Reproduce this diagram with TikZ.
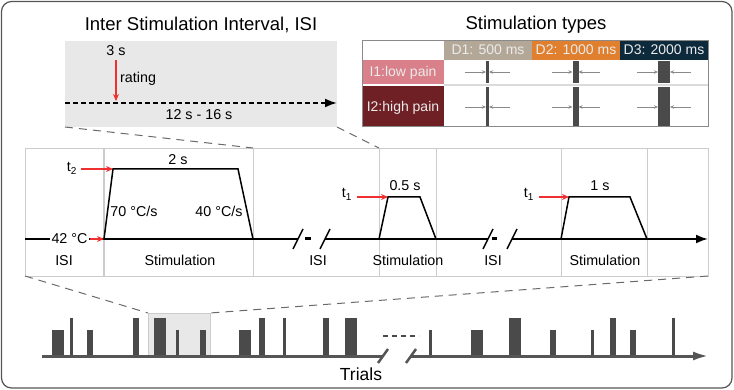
\documentclass[tikz,border=0pt]{standalone}
\usepackage{fontspec}
\setmainfont{Liberation Sans}
\usetikzlibrary{arrows.meta}
\definecolor{framegray}{HTML}{555555}
\definecolor{panelgray}{HTML}{E8E8E8}
\definecolor{linegray}{HTML}{CCCCCC}
\definecolor{dashgray}{HTML}{6A6A6A}
\definecolor{bardark}{HTML}{4A4A4A}
\definecolor{tipgray}{HTML}{8A8A8A}
\definecolor{pulsered}{HTML}{F03030}
\definecolor{hdrtext}{HTML}{EBEBEB}
\definecolor{dOne}{HTML}{B3A898}
\definecolor{dTwo}{HTML}{E07F2D}
\definecolor{dThree}{HTML}{0D2A3D}
\definecolor{iOne}{HTML}{D9808A}
\definecolor{iTwo}{HTML}{6F2024}

\begin{document}
\begin{tikzpicture}
            [x=1pt,y=-1pt,
             ttl/.style={font=\fontsize{18.5}{21}\selectfont,inner sep=0pt,anchor=base},
             lbl/.style={font=\fontsize{14.3}{16}\selectfont,inner sep=0pt,anchor=base},
             hdr/.style={font=\fontsize{14}{16}\selectfont,text=hdrtext,inner sep=0pt,anchor=base},
             redarr/.style={pulsered,line width=1.3pt,-{Stealth[length=7pt,width=6pt]}},
             pulse/.style={line width=1.5pt,line join=miter},
             zoomline/.style={dashgray,line width=1pt,dash pattern=on 8pt off 6pt},
             cutmark/.style={line width=1.5pt},
             smallarr/.style={tipgray,line width=0.8pt,-{Stealth[length=4pt,width=3.5pt]}}]
            \useasboundingbox (0,0) rectangle (734,390);
            \draw[framegray,line width=1.2pt,rounded corners=10pt] (1.5,1.5) rectangle (732,388);

            % inter stimulation interval
            \node[ttl] (isititle) at (201,31) {Inter Stimulation Interval, ISI};
            \fill[panelgray] (65,41) rectangle (337,127);
            \coordinate (isiBL) at (65,127);
            \coordinate (isiBR) at (337,127);
            \coordinate (isiS) at (65,103);
            \coordinate (isiE) at (337,103);
            \coordinate (rate) at (116,101);
            \node[lbl] (three) at (116,56) {3 s};
            \node[lbl,anchor=base west] (rating) at (120,83) {rating};
            \draw[redarr] (three.south)++(0,4) -- (rate);
            \draw[line width=2pt,dash pattern=on 5pt off 3pt,-{Latex[length=12pt,width=9pt]}] (isiS) -- (isiE);
            \node[lbl] (isirange) at (199,120) {12 s - 16 s};

            % stimulation types
            \node[ttl] (typetitle) at (536,30) {Stimulation types};
            \fill[dOne] (444,41) rectangle (532,60);
            \fill[dTwo] (532,41) rectangle (620,60);
            \fill[dThree] (620,41) rectangle (708,60);
            \fill[iOne] (362,60) rectangle (444,84.5);
            \fill[iTwo] (362,86) rectangle (444,127);
            \draw[linegray!70,line width=1.5pt] (444,85.2) -- (708,85.2);
            \draw[tipgray,line width=1pt] (362,41) rectangle (708,127);
            \node[hdr] (d1) at (488,55) {D1: 500 ms};
            \node[hdr] (d2) at (576,55) {D2: 1000 ms};
            \node[hdr] (d3) at (664,55) {D3: 2000 ms};
            \node[hdr] (i1) at (403,77) {I1:low pain};
            \node[hdr] (i2) at (403,112) {I2:high pain};
            \foreach \cx/\w in {487.5/3,575.5/6,664/12}{
              \foreach \ya/\yb/\ym in {61/83/72,87/126/107}{
                \fill[bardark] (\cx-\w/2,\ya) rectangle (\cx+\w/2,\yb);
                \draw[smallarr] (\cx-\w/2-21,\ym) -- (\cx-\w/2,\ym);
                \draw[smallarr] (\cx+\w/2+21,\ym) -- (\cx+\w/2,\ym);
              }
            }

            % trial sequence
            \draw[linegray,line width=0.8pt] (25,148) rectangle (708,276);
            \draw[linegray,line width=2pt] (104,148) -- (104,276);
            \foreach \vx in {253,379,436,561,647}
              \draw[linegray,line width=0.8pt] (\vx,148) -- (\vx,276);
            \coordinate (isiL) at (253,148);
            \coordinate (isiR) at (379,148);
            \draw[zoomline] (isiBL) -- (isiL);
            \draw[zoomline] (isiBR) -- (isiR);

            \draw[line width=2pt] (25,239) -- (298,239);
            \draw[line width=3pt] (305,239) -- (311,239);
            \draw[line width=2pt] (325,239) -- (488,239);
            \draw[line width=3pt] (492,239) -- (497,239);
            \draw[line width=2pt,-{Latex[length=12pt,width=9pt]}] (512,239) -- (708,239);
            \foreach \sx in {298,325,488,512}
              \draw[cutmark] (\sx-5,249) -- (\sx+5,229);

            \coordinate (p1a) at (104,239);
            \coordinate (p1b) at (113,169);
            \coordinate (p1c) at (238,169);
            \coordinate (p1d) at (253,239);
            \draw[pulse] (p1a) -- (p1b) -- (p1c) -- (p1d);
            \coordinate (p2a) at (379,239);
            \coordinate (p2b) at (388,197);
            \coordinate (p2c) at (420,197);
            \coordinate (p2d) at (436,239);
            \draw[pulse] (p2a) -- (p2b) -- (p2c) -- (p2d);
            \coordinate (p3a) at (561,239);
            \coordinate (p3b) at (569,197);
            \coordinate (p3c) at (630,197);
            \coordinate (p3d) at (647,239);
            \draw[pulse] (p3a) -- (p3b) -- (p3c) -- (p3d);

            \node[lbl,fill=white,inner sep=2pt,anchor=center] (base) at (69.5,239) {42 °C};
            \draw[redarr] (base.east) -- (p1a);
            \node[lbl] (tt2) at (72,172) {t\textsubscript{2}};
            \draw[redarr] (81,169) -- (p1b);
            \node[lbl] (tt1a) at (347,198) {t\textsubscript{1}};
            \draw[redarr] (357,197) -- (p2b);
            \node[lbl] (tt1b) at (529,198) {t\textsubscript{1}};
            \draw[redarr] (539,197) -- (p3b);

            \node[lbl] (dur1) at (178,165) {2 s};
            \node[lbl] (dur2) at (405,191) {0.5 s};
            \node[lbl] (dur3) at (600,191) {1 s};
            \node[lbl] (up) at (134,217) {70 °C/s};
            \node[lbl] (down) at (219,217) {40 °C/s};

            \node[lbl] (isi1) at (64,266) {ISI};
            \node[lbl] (stim1) at (180,266) {Stimulation};
            \node[lbl] (isi2) at (318,266) {ISI};
            \node[lbl] (stim2) at (408,266) {Stimulation};
            \node[lbl] (isi3) at (493,266) {ISI};
            \node[lbl] (stim3) at (605,266) {Stimulation};

            % all trials
            \fill[panelgray,draw=linegray,line width=0.8pt] (148,313) rectangle (210,356);
            \coordinate (trBL) at (25,276);
            \coordinate (trBR) at (708,276);
            \draw[zoomline] (trBL) -- (148,313);
            \draw[zoomline] (trBR) -- (210,313);
            \foreach \bx/\bw/\bt in {52/12/330,70/3/318,87/6/330,133/6/318,154/12/318,176/3/330,200/6/330,
                                     239/12/330,259/6/318,283/3/318,323/6/318,345/12/318,
                                     429/3/330,471/12/330,509/12/318,550/6/330,591/3/330,610/6/318,630/6/330,672/3/318}
              \fill[bardark] (\bx,\bt) rectangle (\bx+\bw,356);
            \draw[framegray,line width=3pt] (42,356) -- (383,356);
            \draw[framegray,line width=3pt,-{Latex[length=16pt,width=9pt]}] (411,356) -- (709,356);
            \foreach \sx in {383,411}
              \draw[framegray,line width=2.5pt] (\sx-5,363) -- (\sx+5,349);
            \draw[bardark,line width=2.5pt,dash pattern=on 5pt off 4pt] (383,336) -- (419,336);
            \node[lbl,font=\fontsize{17.5}{20}\selectfont] (trials) at (361,380) {Trials};
\end{tikzpicture}
\end{document}
